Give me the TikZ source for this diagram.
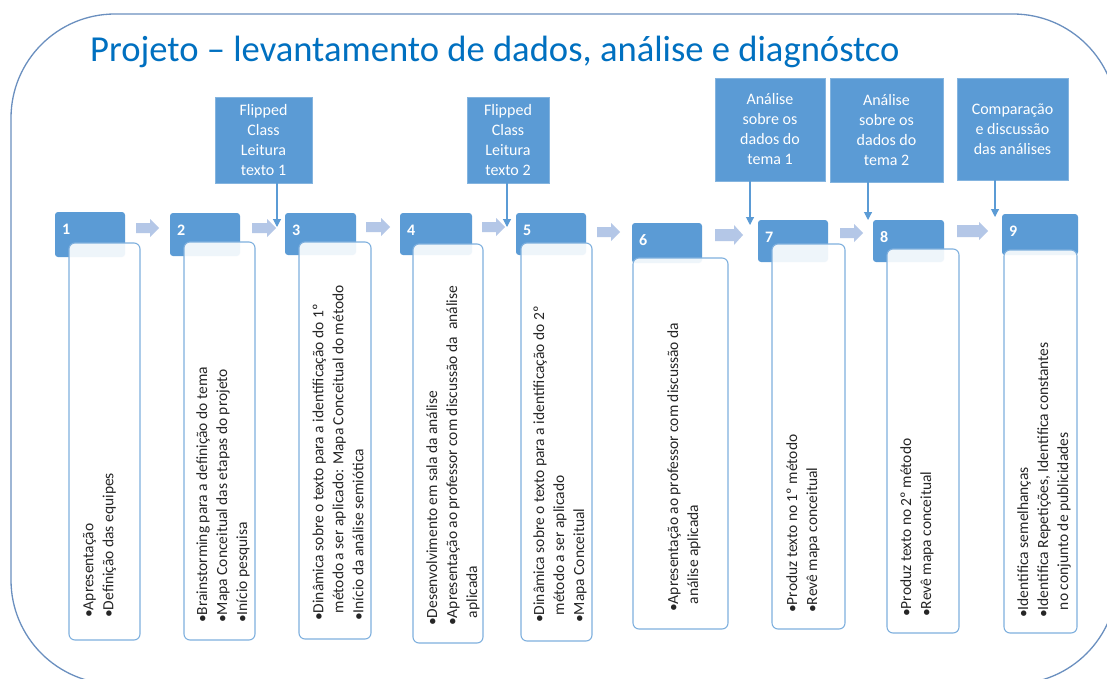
\documentclass[tikz,border=0pt]{standalone}
\usepackage{fontspec}
\setmainfont{Carlito}
\usetikzlibrary{arrows.meta}
\definecolor{hdr}{HTML}{5B9BD5}
\definecolor{bxline}{HTML}{7FB0DE}
\definecolor{arr}{HTML}{B4C7E7}
\definecolor{framec}{HTML}{6A8FBF}
\definecolor{ttl}{HTML}{0070C0}
\definecolor{bodytxt}{HTML}{262626}
\newcommand\bul{\textbullet}
\newcommand\hng{\phantom{\textbullet}}
\newcommand\blockarr[5]{%
  \fill[arr] (#1,#3-#4) -- (#2-9,#3-#4) -- (#2-9,#3-#5) -- (#2,#3) -- (#2-9,#3+#5) -- (#2-9,#3+#4) -- (#1,#3+#4) -- cycle;}
\begin{document}
\begin{tikzpicture}[x=1pt,y=-1pt,
  hdrbox/.style={fill=hdr, rounded corners=3pt},
  bodybox/.style={draw=bxline, line width=1.1pt, fill=white, fill opacity=0.9, rounded corners=6pt},
  numtxt/.style={text=white, font=\fontsize{16}{16}\selectfont\bfseries, anchor=west, inner sep=0pt},
  bodytext/.style={rotate=90, anchor=west, align=left, inner sep=0pt, text=bodytxt, font=\fontsize{15.5}{20}\selectfont},
  callout/.style={fill=hdr, draw=hdr!75!white, line width=0.8pt, text=white, align=center, font=\fontsize{16}{20}\selectfont, inner sep=0pt},
  callarrow/.style={draw=hdr, line width=1.1pt, -{Triangle[length=8pt,width=8pt]}}]
\path[use as bounding box] (0,0) rectangle (1107,679);
\fill[white] (0,0) rectangle (1107,679);
\clip (0,0) rectangle (1107,679);
% frame
\draw[draw=framec, line width=1.3pt, rounded corners=104pt] (11,14) rectangle (1117,684);
% title
\node[anchor=base west, inner sep=0pt, text=ttl, font=\fontsize{36.6}{37}\selectfont] (title) at (90,62) {Projeto – levantamento de dados, análise e diagnóstco};

% headers
\fill[hdrbox] (55,212) rectangle (125,257);
\fill[hdrbox] (170,213) rectangle (240,256);
\fill[hdrbox] (285,213) rectangle (356,255);
\fill[hdrbox] (400,213) rectangle (472,255);
\fill[hdrbox] (516,213) rectangle (586,255);
\fill[hdrbox] (632,223) rectangle (702,263);
\fill[hdrbox] (758,220) rectangle (828,262);
\fill[hdrbox] (873,220) rectangle (944,262);
\fill[hdrbox] (1002,214) rectangle (1078,255);
\node[numtxt] (n1) at (62,229) {1};
\node[numtxt] (n2) at (177,230) {2};
\node[numtxt] (n3) at (292,230) {3};
\node[numtxt] (n4) at (407,230) {4};
\node[numtxt] (n5) at (523,230) {5};
\node[numtxt] (n6) at (639,240) {6};
\node[numtxt] (n7) at (765,237) {7};
\node[numtxt] (n8) at (880,237) {8};
\node[numtxt] (n9) at (1009,231) {9};

% body boxes
\draw[bodybox] (69,243) rectangle (140,640);
\draw[bodybox] (184,242) rectangle (255,640);
\draw[bodybox] (299,242) rectangle (371,639);
\draw[bodybox] (413,244) rectangle (483,643);
\draw[bodybox] (521,243) rectangle (592,641);
\draw[bodybox] (633,258) rectangle (728,629);
\draw[bodybox] (772,244) rectangle (845,629);
\draw[bodybox] (887,249) rectangle (959,633);
\draw[bodybox] (1004,250) rectangle (1077,633);

% body texts
\node[bodytext] (t1) at (99.5,618) {\bul Apresentação\\\bul Definição das equipes};
\node[bodytext] (t2) at (223,623) {\bul Brainstorming para a definição do tema\\\bul Mapa Conceitual das etapas do projeto\\\bul Início pesquisa};
\node[bodytext] (t3) at (338,621) {\bul Dinâmica sobre o texto para a identificação do 1º\\\hng método a ser aplicado: Mapa Conceitual do método\\\bul Início da análise semiótica};
\node[bodytext] (t4) at (453,626) {\bul Desenvolvimento em sala da análise\\\bul Apresentação ao professor com discussão da\ \ análise\\\hng aplicada};
\node[bodytext] (t5) at (560,623) {\bul Dinâmica sobre o texto para a identificação do 2º\\\hng método a ser aplicado\\\bul Mapa Conceitual};
\node[bodytext] (t6) at (684,612) {\bul Apresentação ao professor com discussão da\\\hng análise aplicada};
\node[bodytext] (t7) at (803,613) {\bul Produz texto no 1º método\\\bul Revê mapa conceitual};
\node[bodytext] (t8) at (917,617) {\bul Produz texto no 2º método\\\bul Revê mapa conceitual};
\node[bodytext] (t9) at (1044,618) {\bul Identifica semelhanças\\\bul Identifica Repetições, Identifica constantes\\\hng no conjunto de publicidades};

% block arrows
\blockarr{136}{159}{228}{5}{9}
\blockarr{252}{276}{228}{5}{9}
\blockarr{366}{390}{227}{5}{9}
\blockarr{482}{505}{227}{5}{9}
\blockarr{597}{620}{232}{5}{9}
\blockarr{715}{743}{235}{6}{10}
\blockarr{840}{863}{233}{5}{9}
\blockarr{957}{988}{231}{6}{9}

% callouts
\node[callout, minimum width=97pt, minimum height=86pt] (f1) at (263.5,140) {Flipped\\Class\\Leitura\\texto 1};
\node[callout, minimum width=82pt, minimum height=86pt] (f2) at (508,140) {Flipped\\Class\\Leitura\\texto 2};
\node[callout, minimum width=110pt, minimum height=103pt] (a1) at (770,129.5) {Análise\\sobre os\\dados do\\tema 1};
\node[callout, minimum width=113pt, minimum height=104pt] (a2) at (886.5,130) {Análise\\sobre os\\dados do\\tema 2};
\node[callout, minimum width=111pt, minimum height=102pt] (c9) at (1012.5,129) {Comparação\\e discussão\\das análises};

\coordinate (p1) at (277,227);
\coordinate (p2) at (507,227);
\coordinate (p3) at (750,225);
\coordinate (p4) at (868,220);
\coordinate (p5) at (995,217);
\draw[callarrow] (f1.south -| p1) -- (p1);
\draw[callarrow] (f2.south -| p2) -- (p2);
\draw[callarrow] (a1.south -| p3) -- (p3);
\draw[callarrow] (a2.south -| p4) -- (p4);
\draw[callarrow] (c9.south -| p5) -- (p5);
\end{tikzpicture}
\end{document}
